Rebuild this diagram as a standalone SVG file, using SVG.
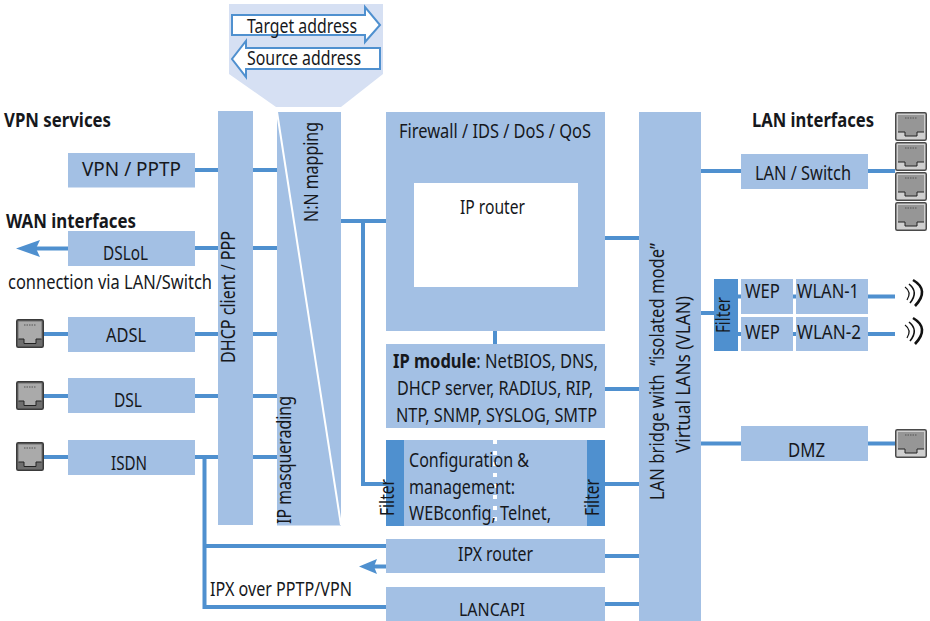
<svg xmlns="http://www.w3.org/2000/svg" xmlns:xlink="http://www.w3.org/1999/xlink" width="930" height="621" viewBox="0 0 930 621">
<style>
text{font-family:"Noto Sans","Open Sans","Liberation Sans",sans-serif;font-size:20px;fill:#16181c}
.b{font-weight:700}
.box{fill:#a3c0e4}
.flt{fill:#4f90cf}
.con{fill:none;stroke:#4f90cf;stroke-width:4}
.addr{fill:#fff;stroke:#4f90cf;stroke-width:2}
.wave{fill:none;stroke:#111}
</style>
<defs>
<g id="jack">
<rect x="0.75" y="0.75" width="30.500" height="27.500" rx="1.5" fill="#cfcfcf" stroke="#4a4a4a" stroke-width="1.5"/>
<path d="M3,3H29V20H22V24H10V20H3Z" fill="#969696"/>
<path d="M3,20H10V24H22V20H29" fill="none" stroke="#222" stroke-width="1"/>
<path d="M10,6H22" stroke="#555" stroke-width="1" stroke-dasharray="1.5 1"/>
</g>
<g id="jackd">
<rect x="0.75" y="0.75" width="26.500" height="27.500" rx="1.5" fill="#6e6e6e" stroke="#3a3a3a" stroke-width="1.5"/>
<path d="M2.500,2.500H25.500V20H20V24.500H8V20H2.500Z" fill="#aaa"/>
<path d="M2.500,20H8V24.500H20V20H25.500" fill="none" stroke="#222" stroke-width="1"/>
<path d="M8,6H20" stroke="#555" stroke-width="1" stroke-dasharray="1.5 1"/>
</g>
<g id="waves">
<path class="wave" stroke-width="1.2" d="M1,8Q8,13 3,21"/>
<path class="wave" stroke-width="1.6" d="M5,5Q15,13 6,24"/>
<path class="wave" stroke-width="2.6" d="M9,1Q26,11 11,27"/>
</g>
</defs>

<g id="connectors">
<path class="con" d="M195,170H277M195,248H277M195,334H277M195,396H277M195,457H277M44,334H68M44,396H68M44,457H68"/>
<path class="con" d="M204.500,457V607H386M204.500,546H386"/>
<path class="con" d="M341,221H386M363,221V484H386"/>
<path class="con" d="M495,331V344M605,238H639M605,389H639M605,484H639M605,556H639M605,604H639"/>
<path class="con" d="M701,171H741M868,171H895M701,313H714M738,296.500H741M793,296.500H796M868,296.500H895M738,334H741M793,334H796M868,334H895M701,443.500H741M868,443.500H895"/>
<path class="con" d="M36,248.500H68"/>
<path fill="#4f90cf" d="M16,248.500L40,240L36,248.500L40,257Z"/>
<path class="con" d="M372,566.500H386"/>
<path fill="#4f90cf" d="M359,566.500L377,559L374,566.500L377,574Z"/>
</g>

<g id="address-detail">
<path fill="#d6e0f3" d="M229,4H383V74L341,107H276L229,74Z"/>
<path class="addr" d="M232,15H365V7L380,25L365,42V35H232Z"/>
<text x="247" y="33" textLength="110" lengthAdjust="spacingAndGlyphs">Target address</text>
<path class="addr" d="M380,48H246V41L232,59L246,77V69H380Z"/>
<text x="247" y="65" textLength="114" lengthAdjust="spacingAndGlyphs">Source address</text>
</g>

<text id="vpn-services" class="b" x="4" y="127" textLength="107" lengthAdjust="spacingAndGlyphs">VPN services</text>
<text id="wan-interfaces" class="b" x="6" y="228" textLength="130" lengthAdjust="spacingAndGlyphs">WAN interfaces</text>
<text id="lan-interfaces" class="b" x="752" y="127" textLength="122" lengthAdjust="spacingAndGlyphs">LAN interfaces</text>
<text id="via-lan" x="8" y="289" textLength="204" lengthAdjust="spacingAndGlyphs">connection via LAN/Switch</text>
<text id="ipx-vpn" x="210" y="596" textLength="142" lengthAdjust="spacingAndGlyphs">IPX over PPTP/VPN</text>

<g id="vpn-pptp"><rect class="box" x="68" y="153" width="127" height="34.500"/><text x="82" y="176" textLength="99" lengthAdjust="spacingAndGlyphs">VPN / PPTP</text></g>
<g id="dslol"><rect class="box" x="68" y="231" width="127" height="35"/><text x="103" y="260" textLength="45" lengthAdjust="spacingAndGlyphs">DSLoL</text></g>
<g id="adsl"><rect class="box" x="68" y="317" width="127" height="35"/><text x="106" y="342" textLength="40" lengthAdjust="spacingAndGlyphs">ADSL</text></g>
<g id="dsl"><rect class="box" x="68" y="378" width="127" height="35"/><text x="114" y="407" textLength="28" lengthAdjust="spacingAndGlyphs">DSL</text></g>
<g id="isdn"><rect class="box" x="68" y="440" width="127" height="35"/><text x="111" y="470" textLength="36" lengthAdjust="spacingAndGlyphs">ISDN</text></g>
<use id="jack-adsl" xlink:href="#jackd" x="16" y="319"/>
<use id="jack-dsl" xlink:href="#jackd" x="16" y="381"/>
<use id="jack-isdn" xlink:href="#jackd" x="16" y="442"/>

<g id="dhcp"><rect class="box" x="218" y="111" width="35" height="414"/><text transform="translate(235,363) rotate(-90)" textLength="132" lengthAdjust="spacingAndGlyphs">DHCP client / PPP</text></g>
<g id="mapping">
<rect class="box" x="277" y="112" width="64" height="413.500"/>
<path d="M277,112L341,525" stroke="#fff" stroke-width="2"/>
<text transform="translate(318,222) rotate(-90)" textLength="100" lengthAdjust="spacingAndGlyphs">N:N mapping</text>
<text transform="translate(291,524) rotate(-90)" textLength="128" lengthAdjust="spacingAndGlyphs">IP masquerading</text>
</g>

<g id="firewall"><rect class="box" x="386" y="112" width="219" height="219"/><text x="399" y="138" textLength="192" lengthAdjust="spacingAndGlyphs">Firewall / IDS / DoS / QoS</text></g>
<g id="ip-router"><rect x="414" y="183" width="164" height="104" fill="#fff"/><text x="460" y="214" textLength="65" lengthAdjust="spacingAndGlyphs">IP router</text></g>
<g id="ip-module"><rect class="box" x="386" y="344" width="219" height="84"/>
<text x="393" y="368" textLength="205" lengthAdjust="spacingAndGlyphs"><tspan class="b">IP module</tspan>: NetBIOS, DNS,</text>
<text x="397" y="395" textLength="196" lengthAdjust="spacingAndGlyphs">DHCP server, RADIUS, RIP,</text>
<text x="396" y="422" textLength="201" lengthAdjust="spacingAndGlyphs">NTP, SNMP, SYSLOG, SMTP</text></g>
<g id="config"><rect class="box" x="386" y="440" width="219" height="86"/>
<rect class="flt" x="386" y="440" width="18" height="86"/>
<rect class="flt" x="587" y="440" width="18" height="86"/>
<path d="M495,440V526" stroke="#fff" stroke-width="4" stroke-dasharray="4 7"/>
<text x="409" y="467" textLength="120" lengthAdjust="spacingAndGlyphs">Configuration &amp;</text>
<text x="409" y="494" textLength="106" lengthAdjust="spacingAndGlyphs">management:</text>
<text x="409" y="520" textLength="142" lengthAdjust="spacingAndGlyphs">WEBconfig, Telnet,</text>
<text transform="translate(394,516) rotate(-90)" textLength="37" lengthAdjust="spacingAndGlyphs">Filter</text>
<text transform="translate(599,516) rotate(-90)" textLength="37" lengthAdjust="spacingAndGlyphs">Filter</text></g>
<g id="ipx-router"><rect class="box" x="386" y="539" width="219" height="34"/><text x="458" y="561" textLength="75" lengthAdjust="spacingAndGlyphs">IPX router</text></g>
<g id="lancapi"><rect class="box" x="386" y="587" width="219" height="34"/><text x="459" y="615.500" style="font-size:18px" textLength="66" lengthAdjust="spacingAndGlyphs">LANCAPI</text></g>

<g id="lan-bridge"><rect class="box" x="639" y="112" width="62" height="509"/>
<text transform="translate(664,500) rotate(-90)" textLength="257" lengthAdjust="spacingAndGlyphs" xml:space="preserve">LAN bridge with  “isolated mode”</text>
<text transform="translate(690,453) rotate(-90)" textLength="157" lengthAdjust="spacingAndGlyphs">Virtual LANs (VLAN)</text></g>

<g id="lan-switch"><rect class="box" x="741" y="154" width="127" height="35"/><text x="755" y="180" textLength="96" lengthAdjust="spacingAndGlyphs">LAN / Switch</text></g>
<use id="jack-lan1" xlink:href="#jack" x="895" y="112"/>
<use id="jack-lan2" xlink:href="#jack" x="895" y="142"/>
<use id="jack-lan3" xlink:href="#jack" x="895" y="172"/>
<use id="jack-lan4" xlink:href="#jack" x="895" y="202"/>

<g id="wlan-filter"><rect class="flt" x="714" y="279" width="24" height="72"/><text transform="translate(730,333) rotate(-90)" textLength="36" lengthAdjust="spacingAndGlyphs">Filter</text></g>
<g id="wep-1"><rect class="box" x="741" y="279" width="52" height="35"/><text x="745" y="298" textLength="35" lengthAdjust="spacingAndGlyphs">WEP</text></g>
<g id="wlan-1"><rect class="box" x="796" y="279" width="72" height="35"/><text x="797" y="298" textLength="62" lengthAdjust="spacingAndGlyphs">WLAN-1</text></g>
<g id="wep-2"><rect class="box" x="741" y="317" width="52" height="34"/><text x="745" y="339" textLength="35" lengthAdjust="spacingAndGlyphs">WEP</text></g>
<g id="wlan-2"><rect class="box" x="796" y="317" width="72" height="34"/><text x="797" y="339" textLength="64" lengthAdjust="spacingAndGlyphs">WLAN-2</text></g>
<use id="waves-1" xlink:href="#waves" x="904" y="279"/>
<use id="waves-2" xlink:href="#waves" x="904" y="317"/>

<g id="dmz"><rect class="box" x="741" y="426" width="127" height="35"/><text x="788" y="457" textLength="37" lengthAdjust="spacingAndGlyphs">DMZ</text></g>
<use id="jack-dmz" xlink:href="#jack" x="895" y="429"/>
</svg>
